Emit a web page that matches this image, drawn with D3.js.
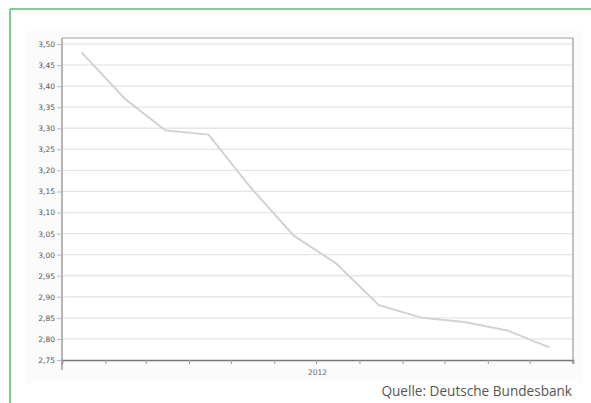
<!DOCTYPE html>
<html>
<head>
<meta charset="utf-8">
<script src="https://cdnjs.cloudflare.com/ajax/libs/d3/7.8.5/d3.min.js"></script>
<style>
  body { margin: 0; background: #fff; }
</style>
</head>
<body>
<div id="chart"></div>
<script>
// Monatswerte 2012 (Mitte des Monats)
var months = ["2012-01-15","2012-02-15","2012-03-15","2012-04-15","2012-05-15","2012-06-15",
              "2012-07-15","2012-08-15","2012-09-15","2012-10-15","2012-11-15","2012-12-15"];
var values = [3.48, 3.37, 3.295, 3.285, 3.16, 3.045, 2.98, 2.88, 2.85, 2.84, 2.82, 2.78];
var yTicks = [2.75, 2.80, 2.85, 2.90, 2.95, 3.00, 3.05, 3.10, 3.15, 3.20, 3.25, 3.30, 3.35, 3.40, 3.45, 3.50];
var yearLabel = "2012";
var source = "Quelle: Deutsche Bundesbank";

var w = 591, h = 403;
// "top" ist im Browser schon belegt, daher plotTop
var plotLeft = 62, plotRight = 573, plotTop = 38, plotBottom = 360;

var parse = d3.timeParse("%Y-%m-%d");
var data = months.map(function(m, i){ return {date: parse(m), value: values[i]}; });

var svg = d3.select("#chart").append("svg")
    .attr("width", w)
    .attr("height", h);

// grüner Rahmen oben und links
svg.append("line").attr("x1", 10).attr("x2", w).attr("y1", 9).attr("y2", 9)
    .attr("stroke", "#52bf72").attr("stroke-width", 1.5);
svg.append("line").attr("x1", 10).attr("x2", 10).attr("y1", 9).attr("y2", h)
    .attr("stroke", "#52bf72").attr("stroke-width", 1.5);

// leichter Hintergrund des Diagrammbildes
svg.append("rect").attr("x", 27).attr("y", 31).attr("width", 556).attr("height", 352)
    .attr("fill", "#fbfbfb");
svg.append("rect").attr("x", plotLeft).attr("y", plotTop)
    .attr("width", plotRight - plotLeft).attr("height", plotBottom - plotTop)
    .attr("fill", "#fff");

var x = d3.scaleTime()
    .domain([parse("2012-01-01"), parse("2013-01-01")])
    .range([plotLeft, plotRight]);
var y = d3.scaleLinear()
    .domain([2.75, 3.50])
    .range([plotBottom, 44]);

// Gitterlinien
svg.append("g").selectAll("line")
    .data(yTicks.slice(1))
    .enter().append("line")
    .attr("x1", plotLeft).attr("x2", plotRight)
    .attr("y1", function(d){ return y(d); })
    .attr("y2", function(d){ return y(d); })
    .attr("stroke", "#e6e6e6")
    .attr("stroke-width", 1.3);

// Rahmen oben / rechts
svg.append("line").attr("x1", plotLeft).attr("x2", plotRight).attr("y1", plotTop).attr("y2", plotTop)
    .attr("stroke", "#cfcfcf").attr("stroke-width", 2);
svg.append("line").attr("x1", plotRight).attr("x2", plotRight).attr("y1", plotTop).attr("y2", plotBottom + 4)
    .attr("stroke", "#9a9a9a").attr("stroke-width", 1.2);

// y-Achse
var yAxis = d3.axisLeft(y)
    .tickValues(yTicks)
    .tickSize(4)
    .tickFormat(function(d){ return d3.format(".2f")(d).replace(".", ","); });
var gy = svg.append("g")
    .attr("transform", "translate(" + (plotLeft - 1) + ",0)")
    .call(yAxis);
gy.select(".domain").remove();
gy.selectAll(".tick line").attr("stroke", "#bbb");
gy.selectAll("text")
    .attr("font-family", "DejaVu Sans, sans-serif")
    .attr("font-size", "7.5px")
    .attr("fill", "#555")
    .attr("x", -6);
svg.append("line").attr("x1", plotLeft).attr("x2", plotLeft).attr("y1", plotTop).attr("y2", plotBottom + 10)
    .attr("stroke", "#b5b5b5").attr("stroke-width", 2);

// x-Achse
var xAxis = d3.axisBottom(x)
    .ticks(d3.timeMonth.every(1))
    .tickSize(4)
    .tickFormat("");
var gx = svg.append("g")
    .attr("transform", "translate(0," + plotBottom + ")")
    .call(xAxis);
gx.select(".domain").attr("stroke", "#777").attr("stroke-width", 1.5);
gx.selectAll(".tick line").attr("stroke", "#999");

svg.append("text")
    .text(yearLabel)
    .attr("x", (plotLeft + plotRight) / 2)
    .attr("y", 375)
    .attr("text-anchor", "middle")
    .attr("font-family", "DejaVu Sans, sans-serif")
    .attr("font-size", "7.5px")
    .attr("fill", "#666");

// Linie
var line = d3.line()
    .x(function(d){ return x(d.date); })
    .y(function(d){ return y(d.value); });
svg.append("path")
    .datum(data)
    .attr("d", line)
    .attr("fill", "none")
    .attr("stroke", "#d2d2d2")
    .attr("stroke-width", 2);

// Quelle
svg.append("text")
    .text(source)
    .attr("x", 572)
    .attr("y", 396)
    .attr("text-anchor", "end")
    .attr("font-family", "Open Sans, sans-serif")
    .attr("font-size", "13.6px")
    .attr("fill", "#555");
</script>
</body>
</html>
